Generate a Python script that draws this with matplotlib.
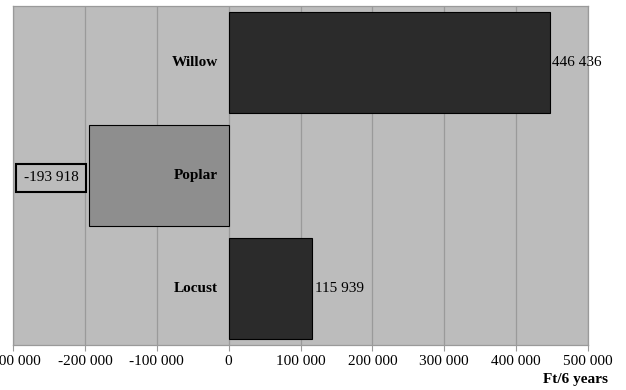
import matplotlib.pyplot as plt
from matplotlib.ticker import FuncFormatter, MultipleLocator

# data
species = ["Locust", "Poplar", "Willow"]
values = [115939, -193918, 446436]
bar_colors = ["#2b2b2b", "#8e8e8e", "#2b2b2b"]

plt.rcParams["font.family"] = ["Liberation Serif", "DejaVu Serif"]


def space_thousands(v, pos=None):
    s = f"{abs(int(round(v))):,}".replace(",", " ")
    return ("-" if v < 0 else "") + s


fig = plt.figure(figsize=(6.26, 3.90), dpi=100)
ax = fig.add_axes([13 / 626, 45 / 390, 575 / 626, 339 / 390])
ax.set_facecolor("#bcbcbc")

ypos = list(range(len(species)))
ax.barh(ypos, values, height=0.89, color=bar_colors, edgecolor="black",
        linewidth=0.8, zorder=3)

ax.set_xlim(-300000, 500000)
ax.set_ylim(-0.5, len(species) - 0.5)
ax.xaxis.set_major_locator(MultipleLocator(100000))
ax.xaxis.set_major_formatter(FuncFormatter(space_thousands))
ax.grid(axis="x", color="#9a9a9a", linewidth=0.9, zorder=1)
ax.set_yticks([])
ax.tick_params(axis="x", direction="out", length=4, color="#9a9a9a",
               labelsize=11, pad=3)
for side, sp in ax.spines.items():
    sp.set_color("#9a9a9a")
    sp.set_linewidth(0.9)

# category labels left of zero
for y, name in zip(ypos, species):
    ax.text(-15000, y, name, ha="right", va="center", fontsize=11,
            fontweight="bold", zorder=4)

# value labels
for y, v in zip(ypos, values):
    label = space_thousands(v)
    if v >= 0:
        ax.annotate(label, xy=(v, y), xytext=(2, 0), textcoords="offset points",
                    ha="left", va="center", fontsize=11, zorder=4,
                    annotation_clip=False)
    else:
        ax.text(-285000, y - 0.02, label, ha="left", va="center", fontsize=11,
                zorder=4,
                bbox=dict(boxstyle="square,pad=0.5", facecolor="#bcbcbc",
                          edgecolor="black", linewidth=1.5))

fig.text(608 / 626, 10 / 390, "Ft/6 years", ha="right", va="center",
         fontsize=11, fontweight="bold")

fig.savefig("out.png", dpi=100)
